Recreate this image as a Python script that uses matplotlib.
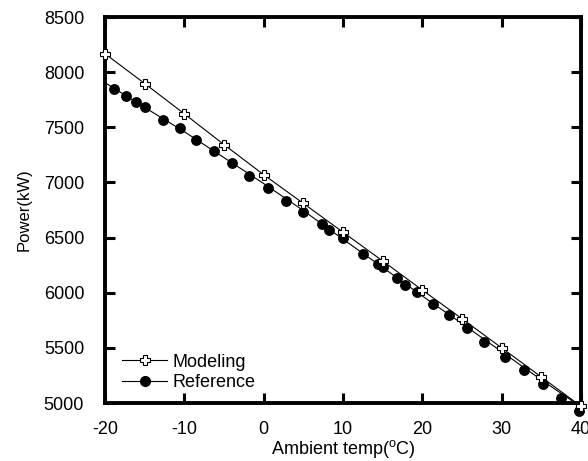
import matplotlib
matplotlib.use('Agg')

import matplotlib.pyplot as plt
from matplotlib.lines import Line2D

plt.rcParams['font.family'] = ['Liberation Sans', 'DejaVu Sans']
plt.rcParams['mathtext.fontset'] = 'custom'
plt.rcParams['mathtext.rm'] = 'Liberation Sans'
plt.rcParams['axes.unicode_minus'] = False

# Modeling results (open plus markers joined by a line)
model_x = [-20, -15, -10, -5, 0, 5, 10, 15, 20, 25, 30, 35, 40]
model_y = [8167, 7897, 7622, 7343, 7070, 6810, 6549, 6288, 6024, 5764, 5500, 5236, 4970]

# Reference data points (filled circles)
ref_x = [-18.9, -17.4, -16.1, -15.0, -12.7, -10.6, -8.5, -6.3, -4.0, -1.8, 0.5,
         2.8, 4.9, 7.3, 8.2, 10.0, 12.5, 14.4, 15.0, 16.8, 17.8, 19.3, 21.3,
         23.3, 25.6, 27.8, 30.4, 32.8, 35.2, 37.5, 39.7]
ref_y = [7849, 7788, 7733, 7685, 7570, 7491, 7388, 7282, 7173, 7058, 6954,
         6835, 6736, 6624, 6570, 6494, 6352, 6258, 6236, 6131, 6070, 6004, 5900,
         5794, 5676, 5555, 5418, 5295, 5170, 5045, 4930]

# Reference trend line
ref_line_x = [-20, -15, -10, -5, 0, 5, 10, 15, 20, 25, 30, 35, 40]
ref_line_y = [7905, 7680, 7460, 7225, 6990, 6745, 6485, 6230, 5970, 5720, 5465, 5210, 4965]

x_ticks = [-20, -10, 0, 10, 20, 30, 40]
y_ticks = [5000, 5500, 6000, 6500, 7000, 7500, 8000, 8500]

fig = plt.figure(figsize=(5.88, 4.61), dpi=100)
ax = fig.add_axes([0.1786, 0.1258, 0.8095, 0.8373])

ax.plot(model_x, model_y, color='black', lw=0.8, marker='P', ms=7,
        mfc='white', mec='black', mew=0.8, clip_on=False, zorder=4)
ax.plot(ref_line_x, ref_line_y, color='black', lw=0.8, zorder=2)
ax.plot(ref_x, ref_y, linestyle='none', marker='o', ms=6.8, color='black',
        clip_on=False, zorder=3)

ax.set_xlim(-20, 40)
ax.set_ylim(5000, 8500)
ax.set_xticks(x_ticks)
ax.set_yticks(y_ticks)

for s in ax.spines.values():
    s.set_linewidth(2.8)
ax.tick_params(direction='in', length=7, width=2.2, labelsize=13,
               top=True, right=True)
ax.tick_params(axis='y', pad=15)
ax.tick_params(axis='x', pad=13)

ax.set_xlabel(r'Ambient temp($^{\mathrm{o}}$C)', fontsize=13, labelpad=0)
ax.set_ylabel('Power(kW)', fontsize=12, labelpad=9)

handles = [
    Line2D([], [], color='black', lw=0.8, marker='P', ms=6.5, mfc='white',
           mec='black', mew=0.8),
    Line2D([], [], color='black', lw=0.8, marker='o', ms=7),
]
ax.legend(handles, ['Modeling', 'Reference'], loc='lower left',
          bbox_to_anchor=(0.036, 0.03), frameon=False, fontsize=13,
          borderpad=0, borderaxespad=0, handlelength=2.5,
          handletextpad=0.3, labelspacing=0.2)

plt.savefig('out.png', dpi=100)
